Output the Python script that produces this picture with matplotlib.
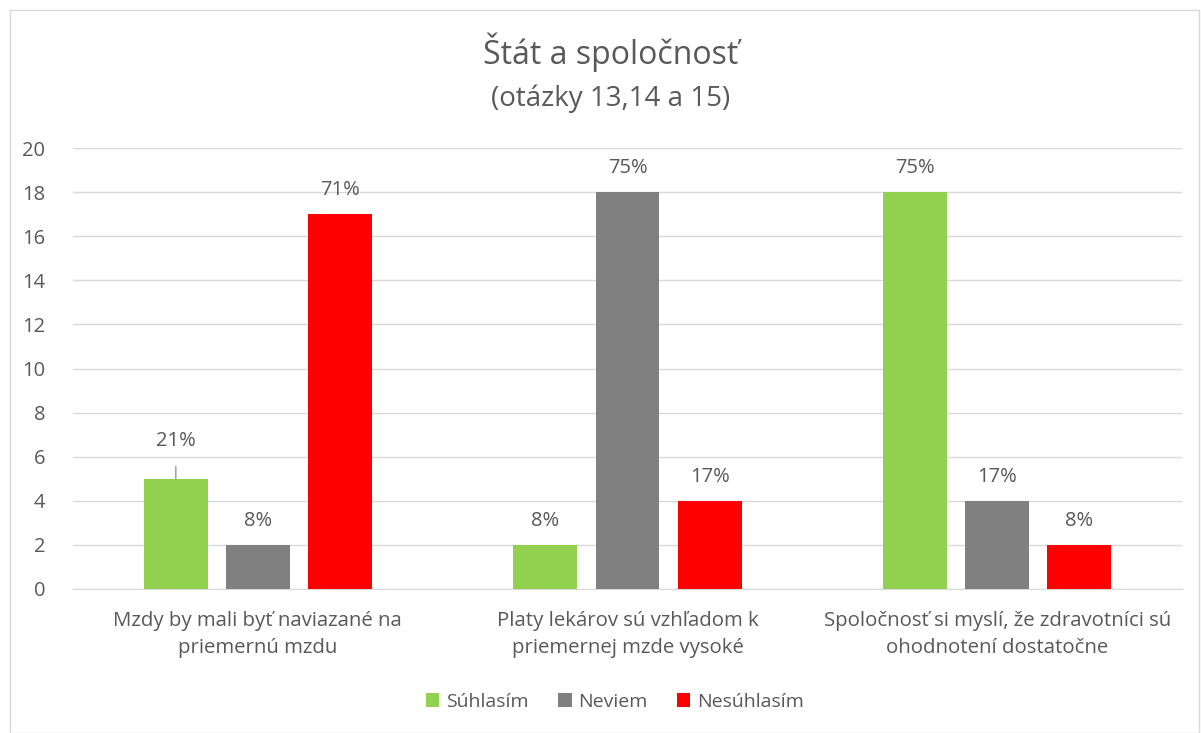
import matplotlib.pyplot as plt
import numpy as np
from matplotlib.patches import Rectangle

plt.rcParams['font.family'] = ['Open Sans', 'DejaVu Sans']

categories = ['Mzdy by mali byť naviazané na\npriemernú mzdu',
              'Platy lekárov sú vzhľadom k\npriemernej mzde vysoké',
              'Spoločnosť si myslí, že zdravotníci sú\nohodnotení dostatočne']
series = ['Súhlasím', 'Neviem', 'Nesúhlasím']
suhlasim = [5, 2, 18]
neviem = [2, 18, 4]
nesuhlasim = [17, 4, 2]
labels_suhlasim = ['21%', '8%', '75%']
labels_neviem = ['8%', '75%', '17%']
labels_nesuhlasim = ['71%', '17%', '8%']
colors = ['#92d050', '#808080', '#ff0000']
txt = '#595959'

fig = plt.figure(figsize=(12.01, 7.33), dpi=100)
ax = fig.add_axes([73 / 1201, 1 - 589 / 733, 1109 / 1201, 441 / 733])

# outer border like the Excel chart area
fig.patches.append(Rectangle((10 / 1201, 0), 1189 / 1201, 723 / 733, transform=fig.transFigure,
                             fill=False, edgecolor='#d9d9d9', linewidth=1))

x = np.arange(len(categories))
w = 0.173
step = 0.222
data = [suhlasim, neviem, nesuhlasim]
labs = [labels_suhlasim, labels_neviem, labels_nesuhlasim]
for i, (vals, lab, c, name) in enumerate(zip(data, labs, colors, series)):
    pos = x + (i - 1) * step
    ax.bar(pos, vals, width=w, color=c, label=name, zorder=3)
    for p, v, l in zip(pos, vals, lab):
        if i == 0 and p < 0:
            # label with leader line
            ax.annotate(l, xy=(p, v), xytext=(p, v + 1.7), ha='center', va='center',
                        fontsize=14.5, color=txt,
                        arrowprops=dict(arrowstyle='-', color='#a6a6a6', lw=1.2,
                                        shrinkA=9, shrinkB=0))
        else:
            ax.text(p, v + 1.1, l, ha='center', va='center', fontsize=14.5, color=txt)

ax.set_xlim(-0.5, 2.5)
ax.set_ylim(0, 20)
ax.set_yticks(range(0, 21, 2))
ax.yaxis.grid(True, color='#d9d9d9', linewidth=1, zorder=0)
ax.set_axisbelow(True)
for s in ['top', 'right', 'left']:
    ax.spines[s].set_visible(False)
ax.spines['bottom'].set_color('#d9d9d9')
ax.tick_params(axis='y', length=0, labelsize=14.5, labelcolor=txt, pad=20)
ax.tick_params(axis='x', length=0, labelsize=14.7, labelcolor=txt, pad=16)
ax.set_xticks(x)
ax.set_xticklabels(categories, linespacing=1.45)

fig.text(611 / 1201, 1 - 52 / 733, 'Štát a spoločnosť', ha='center', va='center', fontsize=23, color=txt)
fig.text(611 / 1201, 1 - 99 / 733, '(otázky 13,14 a 15)', ha='center', va='center', fontsize=20, color=txt)

fig.legend(loc='center', bbox_to_anchor=(0.512, 1 - 702 / 733), ncol=3, frameon=False,
           fontsize=14, labelcolor=txt, handlelength=0.7, handleheight=0.7,
           handletextpad=0.35, columnspacing=1.5)

fig.savefig('out.png', dpi=100)
